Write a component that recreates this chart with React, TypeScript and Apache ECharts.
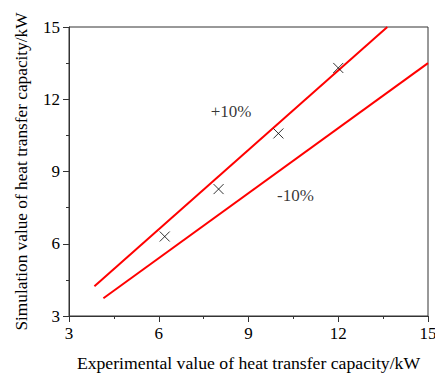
import React, { useEffect, useRef } from "react";
import * as echarts from "echarts";

const xTicks = [3, 6, 9, 12, 15];
const yTicks = [3, 6, 9, 12, 15];
const measured = [
  [6.2, 6.3],
  [8.0, 8.27],
  [10.0, 10.58],
  [12.0, 13.3],
];
const plusLine = [
  [3.85, 4.235],
  [13.64, 15.0],
];
const minusLine = [
  [4.15, 3.735],
  [15.0, 13.5],
];
const labels = [
  { name: "+10%", value: [8.42, 11.5] },
  { name: "-10%", value: [10.57, 8.02] },
];

const FONT = "Liberation Serif";

export default function App() {
  const ref = useRef<HTMLDivElement>(null);
  useEffect(() => {
    const chart = echarts.init(ref.current!, null, { renderer: "svg" });
    const axisCommon = {
      min: xTicks[0],
      max: xTicks[xTicks.length - 1],
      interval: 3,
      axisLine: { show: true, lineStyle: { color: "#333", width: 1 } },
      axisTick: { show: true, inside: false, length: 6, lineStyle: { color: "#333" } },
      minorTick: { show: true, splitNumber: 2, length: 3, lineStyle: { color: "#333" } },
      splitLine: { show: false },
      axisLabel: { fontFamily: FONT, fontSize: 17, color: "#000" },
      nameLocation: "middle",
      nameMoveOverlap: false,
      nameTextStyle: { fontFamily: FONT, fontSize: 17.7, color: "#000" },
    };
    chart.setOption({
      animation: false,
      grid: {
        left: 69,
        right: 7,
        top: 27,
        bottom: 58,
        outerBoundsMode: "none",
        containLabel: false,
        show: true,
        borderColor: "#333",
        borderWidth: 1,
        backgroundColor: "transparent",
      },
      xAxis: {
        ...axisCommon,
        type: "value",
        name: "Experimental value of heat transfer capacity/kW",
        nameGap: 38,
        axisLabel: { ...axisCommon.axisLabel, margin: 9 },
      },
      yAxis: {
        ...axisCommon,
        type: "value",
        min: yTicks[0],
        max: yTicks[yTicks.length - 1],
        name: "Simulation value of heat transfer capacity/kW",
        nameGap: 39,
        nameTextStyle: { fontFamily: FONT, fontSize: 17.3, color: "#000" },
        axisLabel: { ...axisCommon.axisLabel, margin: 9 },
      },
      series: [
        {
          type: "line",
          data: plusLine,
          showSymbol: false,
          symbol: "none",
          lineStyle: { color: "#ff0000", width: 2 },
        },
        {
          type: "line",
          data: minusLine,
          showSymbol: false,
          symbol: "none",
          lineStyle: { color: "#ff0000", width: 2 },
        },
        {
          type: "scatter",
          data: measured,
          symbol: "path://M0,0L10,10M10,0L0,10",
          symbolSize: 10,
          itemStyle: { color: "none", borderColor: "#000", borderWidth: 1 },
          z: 5,
        },
        {
          type: "scatter",
          data: labels,
          symbolSize: 0,
          label: {
            show: true,
            position: "inside",
            formatter: "{b}",
            fontFamily: FONT,
            fontSize: 17,
            color: "#000",
          },
        },
      ],
    });
    return () => chart.dispose();
  }, []);
  return (
    <div
      ref={ref}
      style={{ position: "fixed", left: 0, top: 0, width: 435, height: 374, background: "#fff" }}
    />
  );
}
